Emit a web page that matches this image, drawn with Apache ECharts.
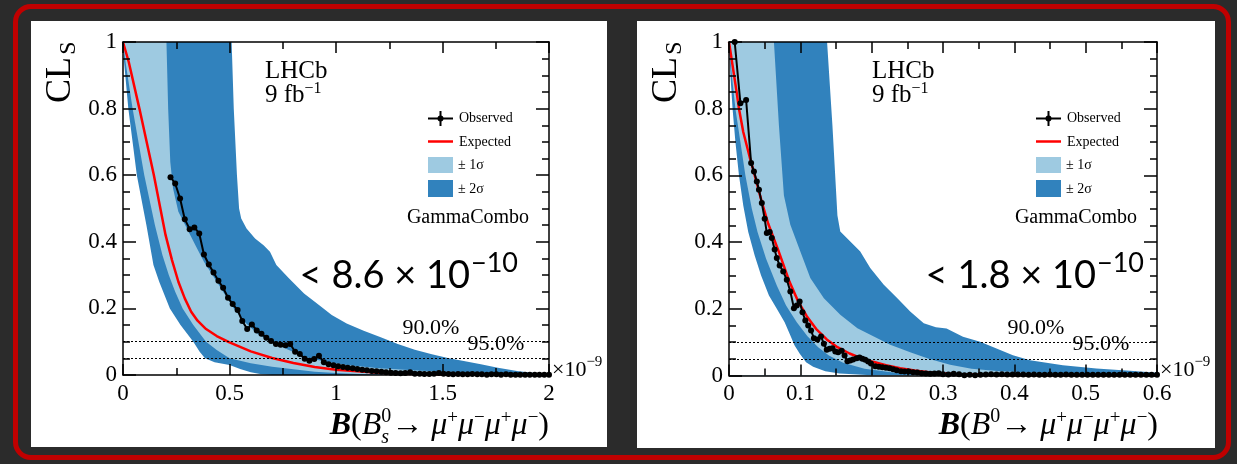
<!DOCTYPE html>
<html><head><meta charset="utf-8">
<script src="https://cdn.jsdelivr.net/npm/echarts@6/dist/echarts.min.js"></script>
<style>
html,body{margin:0;padding:0;background:#2b2b2b;width:1237px;height:464px;overflow:hidden;}
#frame{position:absolute;left:13px;top:4px;width:1218px;height:456px;box-sizing:border-box;border:5px solid #c00000;border-radius:18px;}
.panel{position:absolute;background:#fff;}
#chart{position:absolute;left:0;top:0;width:1237px;height:464px;}
</style></head><body>
<div id="frame"></div>
<div class="panel" style="left:31px;top:21px;width:576px;height:426px"></div>
<div class="panel" style="left:637px;top:21px;width:578px;height:427px"></div>
<div id="chart"></div>
<script>
// ---------------- DATA ----------------
// Left panel: B(Bs0 -> 4mu), x in units of 1e-9
const leftXTicks = [0, 0.5, 1, 1.5, 2];
const leftExpected = [[0,1],[0.027,0.94],[0.077,0.8],[0.145,0.6],[0.2,0.42],[0.23,0.345],[0.26,0.28],[0.29,0.23],[0.32,0.19],[0.35,0.163],[0.39,0.138],[0.44,0.117],[0.5,0.098],[0.6,0.071],[0.7,0.051],[0.8,0.036],[0.9,0.024],[1.0,0.016],[1.1,0.011],[1.2,0.007],[1.3,0.004],[1.5,0.002],[2.0,0.0005]];
const leftUpper2 = [[0,1],[0.51,1],[0.52,0.8],[0.535,0.6],[0.545,0.5],[0.555,0.47],[0.58,0.44],[0.62,0.41],[0.66,0.39],[0.69,0.37],[0.72,0.33],[0.78,0.29],[0.85,0.245],[0.92,0.21],[0.98,0.18],[1.05,0.155],[1.13,0.133],[1.21,0.113],[1.29,0.093],[1.37,0.076],[1.45,0.062],[1.53,0.05],[1.6,0.042],[1.68,0.032],[1.76,0.022],[1.85,0.012],[1.92,0.007],[2.0,0.004]];
const leftUpper1 = [[0,1],[0.204,1],[0.212,0.8],[0.222,0.64],[0.235,0.56],[0.26,0.49],[0.3,0.44],[0.34,0.39],[0.38,0.34],[0.42,0.3],[0.47,0.25],[0.52,0.2],[0.57,0.16],[0.63,0.125],[0.69,0.1],[0.76,0.08],[0.85,0.055],[0.95,0.04],[1.05,0.03],[1.2,0.02],[1.4,0.013],[1.6,0.008],[1.8,0.005],[2.0,0.003]];
const leftLower1 = [[0,1],[0.012,0.94],[0.045,0.8],[0.1,0.6],[0.15,0.45],[0.185,0.36],[0.215,0.3],[0.245,0.25],[0.28,0.2],[0.33,0.15],[0.39,0.1],[0.44,0.075],[0.5,0.05],[0.6,0.035],[0.7,0.025],[0.8,0.017],[0.9,0.01],[1.0,0.006],[1.1,0.003],[1.3,0.001],[2.0,0]];
const leftLower2 = [[0,1],[0.005,0.94],[0.025,0.8],[0.065,0.6],[0.11,0.45],[0.143,0.33],[0.17,0.28],[0.22,0.2],[0.27,0.15],[0.33,0.1],[0.36,0.07],[0.385,0.05],[0.43,0.038],[0.5,0.03],[0.55,0.018],[0.6,0.008],[0.65,0.002],[0.7,0],[2.0,0]];
// observed: [x, CLs, error]
const leftObserved = [[0.223,0.594,0.02],[0.245,0.575,0.02],[0.268,0.53,0.018],[0.29,0.468,0.016],[0.313,0.438,0.015],[0.335,0.443,0.015],[0.358,0.425,0.014],[0.38,0.362,0.013],[0.403,0.332,0.012],[0.425,0.308,0.011],[0.448,0.283,0.011],[0.47,0.262,0.01],[0.493,0.232,0.01],[0.515,0.213,0.01],[0.538,0.195,0.009],[0.56,0.162,0.009],[0.583,0.138,0.008],[0.605,0.152,0.008],[0.628,0.134,0.008],[0.65,0.124,0.007],[0.673,0.112,0.007],[0.695,0.102,0.007],[0.718,0.093,0.006],[0.74,0.091,0.006],[0.763,0.089,0.006],[0.785,0.093,0.006],[0.808,0.07,0.005],[0.83,0.063,0.005],[0.853,0.049,0.005],[0.875,0.043,0.005],[0.898,0.048,0.005],[0.92,0.058,0.005],[0.943,0.038,0.004],[0.965,0.032,0.004],[0.988,0.029,0.004],[1.01,0.026,0.004],[1.033,0.024,0.004],[1.055,0.022,0.003],[1.078,0.02,0.003],[1.1,0.018,0.003],[1.123,0.016,0.003],[1.145,0.014,0.003],[1.168,0.012,0.003],[1.19,0.011,0.003],[1.213,0.01,0.003],[1.235,0.008,0.003],[1.258,0.007,0.003],[1.28,0.006,0.002],[1.303,0.005,0.002],[1.325,0.006,0.002],[1.348,0.008,0.002],[1.37,0.004,0.002],[1.393,0.004,0.002],[1.415,0.003,0.002],[1.438,0.003,0.002],[1.46,0.004,0.002],[1.483,0.006,0.002],[1.505,0.004,0.002],[1.528,0.003,0.002],[1.55,0.002,0.002],[1.573,0.003,0.002],[1.595,0.002,0.002],[1.618,0.002,0.002],[1.64,0.003,0.002],[1.663,0.002,0.002],[1.685,0.002,0.002],[1.708,0.001,0.002],[1.73,0.002,0.002],[1.753,0.002,0.002],[1.775,0.001,0.002],[1.798,0.002,0.002],[1.82,0.001,0.002],[1.843,0.001,0.002],[1.865,0.001,0.002],[1.888,0.001,0.002],[1.91,0.001,0.002],[1.933,0.001,0.002],[1.955,0.001,0.002],[1.978,0.001,0.002],[2.0,0.001,0.002]];

// Right panel: B(B0 -> 4mu), x in units of 1e-9
const rightXTicks = [0, 0.1, 0.2, 0.3, 0.4, 0.5, 0.6];
const rightExpected = [[0,1],[0.005,0.93],[0.01,0.86],[0.014,0.8],[0.02,0.73],[0.029,0.655],[0.038,0.585],[0.046,0.52],[0.055,0.455],[0.069,0.376],[0.085,0.28],[0.097,0.222],[0.109,0.178],[0.122,0.14],[0.137,0.108],[0.152,0.085],[0.169,0.066],[0.185,0.052],[0.202,0.041],[0.22,0.031],[0.24,0.022],[0.26,0.015],[0.286,0.008],[0.32,0.004],[0.4,0.001],[0.6,0]];
const rightUpper2 = [[0,1],[0.1375,1],[0.145,0.75],[0.152,0.48],[0.156,0.432],[0.17,0.402],[0.184,0.372],[0.198,0.322],[0.217,0.272],[0.236,0.232],[0.254,0.192],[0.273,0.157],[0.29,0.145],[0.305,0.141],[0.328,0.116],[0.352,0.101],[0.375,0.081],[0.398,0.061],[0.422,0.046],[0.468,0.031],[0.515,0.021],[0.562,0.014],[0.6,0.008]];
const rightUpper1 = [[0,1],[0.063,1],[0.07,0.75],[0.077,0.54],[0.086,0.452],[0.1,0.372],[0.114,0.292],[0.133,0.232],[0.156,0.182],[0.18,0.142],[0.203,0.117],[0.226,0.092],[0.254,0.07],[0.28,0.05],[0.31,0.032],[0.34,0.02],[0.38,0.013],[0.45,0.007],[0.55,0.003],[0.6,0.002]];
const rightLower1 = [[0,1],[0.004,0.9],[0.009,0.8],[0.016,0.7],[0.023,0.6],[0.032,0.5],[0.04,0.43],[0.052,0.35],[0.067,0.27],[0.08,0.21],[0.095,0.16],[0.11,0.118],[0.125,0.085],[0.14,0.06],[0.16,0.038],[0.19,0.02],[0.23,0.009],[0.3,0.002],[0.6,0]];
const rightLower2 = [[0,1],[0.002,0.9],[0.005,0.8],[0.009,0.7],[0.014,0.6],[0.02,0.51],[0.027,0.43],[0.036,0.36],[0.045,0.3],[0.056,0.24],[0.067,0.2],[0.078,0.16],[0.085,0.125],[0.092,0.09],[0.099,0.066],[0.108,0.04],[0.118,0.026],[0.135,0.013],[0.155,0.006],[0.2,0.001],[0.6,0]];
const rightObserved = [[0.008,1.0,0.004],[0.016,0.816,0.025],[0.024,0.826,0.035],[0.031,0.637,0.02],[0.035,0.612,0.018],[0.039,0.582,0.018],[0.042,0.557,0.016],[0.046,0.517,0.016],[0.05,0.47,0.015],[0.053,0.427,0.015],[0.057,0.43,0.014],[0.06,0.412,0.014],[0.064,0.378,0.013],[0.067,0.352,0.013],[0.071,0.33,0.012],[0.076,0.312,0.012],[0.081,0.287,0.012],[0.086,0.252,0.011],[0.091,0.202,0.011],[0.095,0.21,0.011],[0.099,0.222,0.011],[0.103,0.19,0.01],[0.107,0.165,0.01],[0.111,0.15,0.01],[0.115,0.135,0.009],[0.119,0.112,0.009],[0.124,0.108,0.009],[0.129,0.117,0.009],[0.133,0.095,0.008],[0.137,0.077,0.008],[0.141,0.08,0.008],[0.145,0.082,0.008],[0.149,0.072,0.007],[0.153,0.07,0.007],[0.158,0.074,0.007],[0.162,0.06,0.007],[0.166,0.043,0.006],[0.17,0.045,0.006],[0.174,0.048,0.006],[0.179,0.052,0.006],[0.183,0.054,0.006],[0.187,0.05,0.006],[0.191,0.047,0.006],[0.195,0.042,0.005],[0.199,0.036,0.005],[0.205,0.028,0.005],[0.21,0.026,0.005],[0.215,0.025,0.005],[0.22,0.023,0.004],[0.225,0.022,0.004],[0.23,0.019,0.004],[0.235,0.016,0.004],[0.241,0.013,0.004],[0.246,0.012,0.003],[0.252,0.012,0.003],[0.258,0.01,0.003],[0.264,0.009,0.003],[0.27,0.007,0.003],[0.276,0.006,0.003],[0.282,0.005,0.003],[0.288,0.006,0.003],[0.294,0.007,0.003],[0.3,0.004,0.002],[0.3075,0.003,0.002],[0.315,0.005,0.002],[0.3225,0.004,0.002],[0.33,0.001,0.002],[0.3375,0.002,0.002],[0.345,0.001,0.002],[0.3525,0.002,0.002],[0.36,0.003,0.002],[0.3675,0.004,0.002],[0.375,0.003,0.002],[0.3825,0.004,0.002],[0.39,0.003,0.002],[0.3975,0.003,0.002],[0.405,0.003,0.002],[0.4125,0.003,0.002],[0.42,0.002,0.002],[0.4275,0.003,0.002],[0.435,0.002,0.002],[0.4425,0.002,0.002],[0.45,0.003,0.002],[0.4575,0.002,0.002],[0.465,0.002,0.002],[0.4725,0.003,0.002],[0.48,0.002,0.002],[0.4875,0.002,0.002],[0.495,0.002,0.002],[0.5025,0.002,0.002],[0.51,0.002,0.002],[0.5175,0.002,0.002],[0.525,0.002,0.002],[0.5325,0.002,0.002],[0.54,0.002,0.002],[0.5475,0.002,0.002],[0.555,0.002,0.002],[0.5625,0.002,0.002],[0.57,0.002,0.002],[0.5775,0.002,0.002],[0.585,0.002,0.002],[0.5925,0.002,0.002],[0.6,0.002,0.002]];

const clsLevels = [0.1, 0.05];      // 90% and 95% CL lines
const yTicks = [0, 0.2, 0.4, 0.6, 0.8, 1];

// ---------------- STYLE ----------------
const DARK = '#3182bd', LIGHT = '#9ecae1', RED = '#ff0000';
const SERIF = 'Liberation Serif';
const SANS = 'Lato';

const chart = echarts.init(document.getElementById('chart'), null, {renderer: 'canvas'});

const gridDefs = [
  {left: 123, top: 42, width: 426, height: 333},
  {left: 729, top: 42, width: 428, height: 333.5}
];
const panels = [
  {xt: leftXTicks, exp: leftExpected, u2: leftUpper2, u1: leftUpper1, l1: leftLower1, l2: leftLower2, obs: leftObserved},
  {xt: rightXTicks, exp: rightExpected, u2: rightUpper2, u1: rightUpper1, l1: rightLower1, l2: rightLower2, obs: rightObserved}
];

const labelStyle = {show: true, color: '#000', fontFamily: SERIF, fontSize: 23};
function xAxes(i, p) {
  const t = p.xt;
  const base = {type: 'value', gridIndex: i, min: t[0], max: t[t.length - 1], interval: t[1] - t[0], z: 5,
    axisLine: {show: true, onZero: false, lineStyle: {color: '#000', width: 1.5}},
    axisTick: {show: true, inside: true, length: 11, lineStyle: {color: '#000', width: 1.5}},
    minorTick: {show: true, splitNumber: 2, length: 7, lineStyle: {color: '#000', width: 1.5}},
    splitLine: {show: false}};
  return [
    Object.assign({}, base, {position: 'bottom', axisLabel: Object.assign({margin: 7}, labelStyle)}),
    Object.assign({}, base, {position: 'top', axisLabel: {show: false}})
  ];
}
function yAxes(i) {
  const base = {type: 'value', gridIndex: i, min: yTicks[0], max: yTicks[yTicks.length - 1], interval: yTicks[1] - yTicks[0], z: 5,
    axisLine: {show: true, onZero: false, lineStyle: {color: '#000', width: 1.5}},
    axisTick: {show: true, inside: true, length: 13, lineStyle: {color: '#000', width: 1.5}},
    minorTick: {show: true, splitNumber: 4, length: 7, lineStyle: {color: '#000', width: 1.5}},
    splitLine: {show: false}};
  return [
    Object.assign({}, base, {position: 'left', axisLabel: Object.assign({margin: 6}, labelStyle)}),
    Object.assign({}, base, {position: 'right', axisLabel: {show: false}})
  ];
}

function errRender(params, api) {
  const x = api.value(0), y = api.value(1), e = api.value(2);
  const a = api.coord([x, y - e]), b = api.coord([x, y + e]);
  return {type: 'line', shape: {x1: a[0], y1: a[1], x2: b[0], y2: b[1]}, style: {stroke: '#000', lineWidth: 1.5}};
}

const series = [];
panels.forEach((p, i) => {
  const ax = {xAxisIndex: i * 2, yAxisIndex: i * 2};
  const area = (data, color) => Object.assign({type: 'line', data, symbol: 'none', silent: true,
    lineStyle: {width: 0, opacity: 0}, areaStyle: {color, opacity: 1}}, ax);
  series.push(area(p.u2, DARK), area(p.u1, LIGHT), area(p.l1, DARK), area(p.l2, '#ffffff'));
  series.push(Object.assign({type: 'line', data: p.exp, symbol: 'none', smooth: false, silent: true,
    lineStyle: {color: RED, width: 2.5},
    markLine: {silent: true, symbol: ['none', 'none'], label: {show: false},
      lineStyle: {type: [2, 2], color: '#000', width: 1.2},
      data: clsLevels.map(v => ({yAxis: v}))}}, ax));
  series.push(Object.assign({type: 'custom', data: p.obs, renderItem: errRender, encode: {x: 0, y: 1}, silent: true, clip: true}, ax));
  series.push(Object.assign({type: 'line', data: p.obs.map(d => [d[0], d[1]]), symbol: 'circle', symbolSize: 6, silent: true,
    itemStyle: {color: '#000'}, lineStyle: {color: '#000', width: 2}}, ax));
});

// ---------------- TEXT / ANNOTATIONS ----------------
const G = [];
const mctx = document.createElement('canvas').getContext('2d');
function fontStr(size, o) { return (o.italic ? 'italic ' : '') + (o.bold ? 'bold ' : '') + size + 'px "' + (o.family || SERIF) + '"'; }
function measure(t, size, o) { mctx.font = fontStr(size, o); return mctx.measureText(t).width; }
function T(x, y, text, size, o) {
  o = o || {};
  G.push({type: 'text', x: x, y: y, rotation: o.rot || 0, z: 100, silent: true,
    style: {text: text, fontFamily: o.family || SERIF, fontSize: size, fontWeight: o.bold ? 'bold' : 'normal',
      fontStyle: o.italic ? 'italic' : 'normal', fill: o.color || '#000', align: o.align || 'left', verticalAlign: 'middle'}});
}
function seq(x, base, pieces, right) {
  const ws = pieces.map(p => p.adv === false ? 0 : measure(p.t, p.s, p));
  const total = ws.reduce((a, b) => a + b, 0);
  let cx = right ? x - total : x;
  pieces.forEach((p, k) => { T(cx, base - 0.33 * p.s + (p.dy || 0), p.t, p.s, p); cx += ws[k]; });
}
function R(x, y, w, h, fill) { G.push({type: 'rect', z: 100, silent: true, shape: {x, y, width: w, height: h}, style: {fill}}); }
function L(x1, y1, x2, y2, stroke, lw) { G.push({type: 'line', z: 100, silent: true, shape: {x1, y1, x2, y2}, style: {stroke, lineWidth: lw}}); }
function C(cx, cy, r) { G.push({type: 'circle', z: 101, silent: true, shape: {cx, cy, r}, style: {fill: '#000'}}); }

const annot = [
  {lhcb: 265, leg: 428, gc: 468, bigR: 470, bigText: '< 8.6 × 10', p90: 431, p95: 496, x10: 552, titleR: 549, sub: true, cl: 61},
  {lhcb: 872, leg: 1036, gc: 1076, bigR: 1096, bigText: '< 1.8 × 10', p90: 1036, p95: 1101, x10: 1160, titleR: 1158, sub: false, cl: 667}
];
annot.forEach(a => {
  // y axis title CL_S (rotated)
  T(a.cl, 80, 'CL', 36, {rot: Math.PI / 2, align: 'center'});
  T(a.cl + 8, 48, 'S', 24, {rot: Math.PI / 2, align: 'center'});
  // LHCb label
  T(a.lhcb, 71, 'LHCb', 25);
  seq(a.lhcb, 104, [{t: '9 fb', s: 25}, {t: '−1', s: 16, dy: -10}]);
  // legend
  L(a.leg, 118.5, a.leg + 25, 118.5, '#000', 2);
  L(a.leg + 12.5, 111, a.leg + 12.5, 126, '#000', 2);
  C(a.leg + 12.5, 118.5, 3);
  T(a.leg + 31, 118.5, 'Observed', 14);
  L(a.leg, 141.5, a.leg + 25, 141.5, RED, 2.5);
  T(a.leg + 31, 142, 'Expected', 14);
  R(a.leg, 157, 25, 16, LIGHT);
  T(a.leg + 30, 165, '± 1σ', 14);
  R(a.leg, 180, 25, 17, DARK);
  T(a.leg + 30, 189, '± 2σ', 14);
  T(a.gc, 218, 'GammaCombo', 20, {align: 'center'});
  // limit
  T(a.bigR, 276, a.bigText, 38, {family: SANS, align: 'right'});
  T(a.bigR + 1, 263, '−10', 27, {family: SANS});
  // CL level labels
  T(a.p90, 328, '90.0%', 22, {align: 'center'});
  T(a.p95, 344, '95.0%', 22, {align: 'center'});
  // axis multiplier
  seq(a.x10, 377, [{t: '×10', s: 22}, {t: '−9', s: 15, dy: -10}]);
  // x axis title
  const m = {s: 32, italic: true};
  const pieces = [{t: 'B', s: 32, bold: true, italic: true}, {t: '(', s: 32}, {t: 'B', s: 32, italic: true}];
  if (a.sub) { pieces.push({t: 's', s: 20, italic: true, dy: 8, adv: false}); }
  pieces.push({t: '0', s: 20, dy: -13}, {t: '→ ', s: 32},
    Object.assign({t: 'μ'}, m), {t: '+', s: 19, dy: -12},
    Object.assign({t: 'μ'}, m), {t: '−', s: 19, dy: -12},
    Object.assign({t: 'μ'}, m), {t: '+', s: 19, dy: -12},
    Object.assign({t: 'μ'}, m), {t: '−', s: 19, dy: -12},
    {t: ')', s: 32});
  seq(a.titleR, 436, pieces, true);
});

chart.setOption({
  animation: false,
  backgroundColor: 'transparent',
  textStyle: {fontFamily: SERIF},
  grid: gridDefs.map(g => Object.assign({containLabel: false}, g)),
  xAxis: [].concat(xAxes(0, panels[0]), xAxes(1, panels[1])),
  yAxis: [].concat(yAxes(0), yAxes(1)),
  series: series,
  graphic: {elements: G}
});
</script>
</body></html>
